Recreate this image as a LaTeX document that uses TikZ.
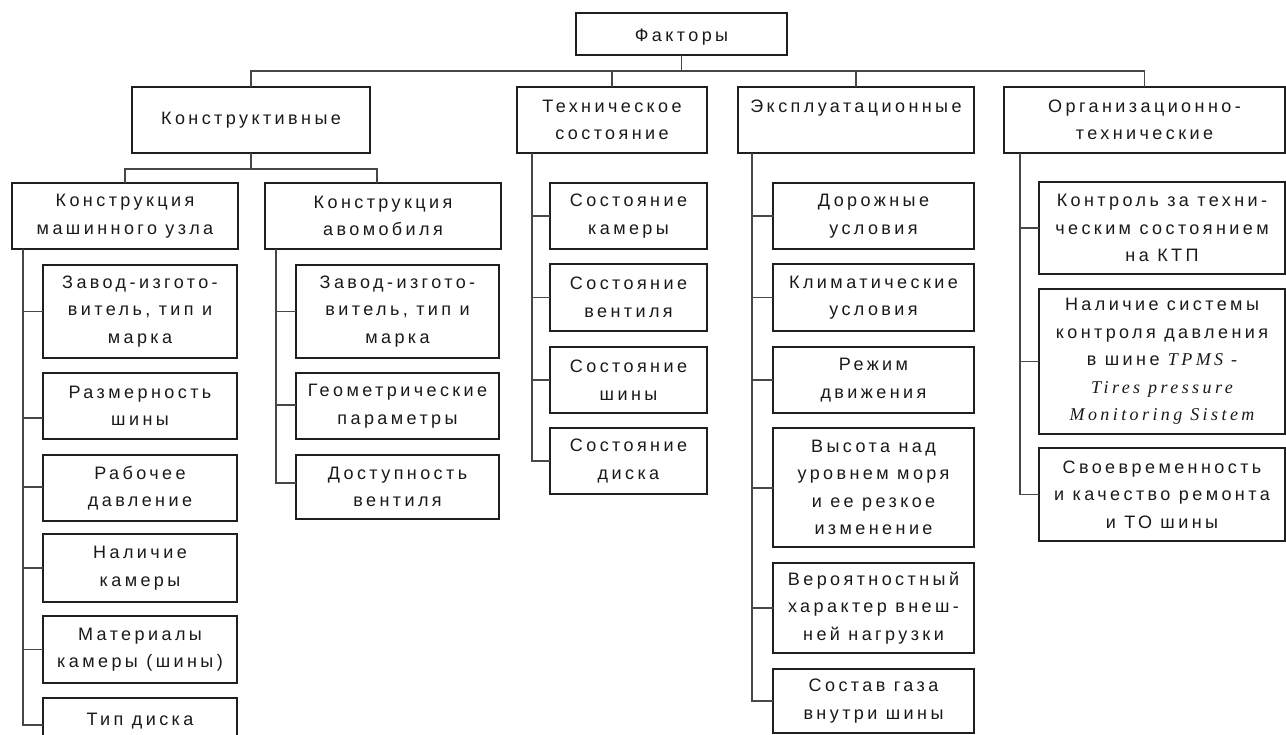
\documentclass[tikz,border=0pt]{standalone}
\usepackage{fontspec}
\setmainfont{Liberation Sans}[LetterSpace=19]
\newfontfamily\itserif{Liberation Serif}[LetterSpace=19]
\begin{document}
\begin{tikzpicture}[x=1pt,y=-1pt,
  every node/.style={font=\fontsize{18}{27.5}\selectfont},
  bx/.style={draw=black!88,line width=1.7pt,inner sep=0pt,outer sep=0pt,align=center,anchor=north west,text=black!90},
  ln/.style={draw=black!72,line width=1.1pt}]
\useasboundingbox (0,0) rectangle (1286,735);
\newcommand\bx[6]{\node[bx,minimum width={#4-#2},minimum height={#5-#3}] (#1) at (#2,#3) {#6};}
% level 0/1
\bx{root}{576}{13}{787}{55}{\raisebox{-3pt}[\height][\depth]{Факторы}}
\bx{konstr}{132}{87}{370}{153}{Конструктивные}
\bx{tech}{517}{87}{707}{153}{Техническое\\состояние}
\bx{expl}{738}{87}{974}{153}{Эксплуатационные\\\phantom{X}}
\bx{org}{1004}{87}{1285}{153}{Организационно-\\технические}
% level 2
\bx{km}{12}{183}{238}{249}{Конструкция\\машинного узла}
\bx{ka}{265}{183}{501}{249}{Конструкция\\авомобиля}
% column 1
\bx{k1}{43}{265}{237}{358}{Завод-изгото-\\витель, тип и\\марка}
\bx{k2}{43}{373}{237}{439}{Размерность\\шины}
\bx{k3}{43}{455}{237}{521}{Рабочее\\давление}
\bx{k4}{43}{534}{237}{602}{Наличие\\камеры}
\bx{k5}{43}{616}{237}{683}{Материалы\\камеры (шины)}
\bx{k6}{43}{698}{237}{745}{Тип диска}
% column 2
\bx{a1}{296}{265}{499}{358}{Завод-изгото-\\витель, тип и\\марка}
\bx{a2}{296}{373}{499}{439}{Геометрические\\параметры}
\bx{a3}{296}{455}{499}{519}{Доступность\\вентиля}
% tech column
\bx{t1}{550}{183}{707}{249}{Состояние\\камеры}
\bx{t2}{550}{264}{707}{331}{Состояние\\вентиля}
\bx{t3}{550}{347}{707}{413}{Состояние\\шины}
\bx{t4}{550}{428}{707}{494}{Состояние\\диска}
% expl column
\bx{e1}{773}{183}{974}{249}{Дорожные\\условия}
\bx{e2}{773}{264}{974}{331}{Климатические\\условия}
\bx{e3}{773}{347}{974}{413}{Режим\\движения}
\bx{e4}{773}{428}{974}{547}{Высота над\\уровнем моря\\и ее резкое\\изменение}
\bx{e5}{773}{563}{974}{653}{Вероятностный\\характер внеш-\\ней нагрузки}
\bx{e6}{773}{669}{974}{733}{Состав газа\\внутри шины}
% org column
\bx{o1}{1039}{182}{1285}{274}{Контроль за техни-\\ческим состоянием\\на КТП}
\bx{o2}{1039}{289}{1285}{434}{Наличие системы\\контроля давления\\в шине {\itserif\itshape TPMS -}\\{\itserif\itshape Tires pressure}\\{\itserif\itshape Monitoring Sistem}}
\bx{o3}{1039}{448}{1285}{541}{Своевременность\\и качество ремонта\\и ТО шины}
% level-1 bus
\coordinate (b1) at (0,71);
\draw[ln] (konstr.north) |- (b1 -| org.north) -- (org.north);
\draw[ln] (root.south) -- (root.south |- b1);
\draw[ln] (tech.north) -- (tech.north |- b1);
\draw[ln] (expl.north) -- (expl.north |- b1);
% level-2 bus
\coordinate (b2) at (0,169);
\draw[ln] (konstr.south) -- (konstr.south |- b2);
\draw[ln] (km.north) |- (b2 -| 377,0) -- ([xshift=-6pt]ka.north);
% column 1
\draw[ln] ([xshift=11pt]km.south west) |- ([yshift=-3.5pt]k6.west);
\draw[ln] ([xshift=11pt]km.south west |- k1.west) -- (k1.west);
\draw[ln] ([xshift=11pt]km.south west |- 0,418) -- (k2.west |- 0,418);
\draw[ln] ([xshift=11pt]km.south west |- 0,487) -- (k3.west |- 0,487);
\draw[ln] ([xshift=11pt]km.south west |- k4.west) -- (k4.west);
\draw[ln] ([xshift=11pt]km.south west |- k5.west) -- (k5.west);
% column 2
\draw[ln] ([xshift=11pt]ka.south west) |- (a3.west |- 0,483);
\draw[ln] ([xshift=11pt]ka.south west |- a1.west) -- (a1.west);
\draw[ln] ([xshift=11pt]ka.south west |- 0,405) -- (a2.west |- 0,405);
% tech column
\draw[ln] ([xshift=15pt]tech.south west) |- (t4.west);
\foreach \n in {t1,t2,t3}{\draw[ln] ([xshift=15pt]tech.south west |- \n.west) -- (\n.west);}
% expl column
\draw[ln] ([xshift=14pt]expl.south west) |- (e6.west);
\foreach \n in {e1,e2,e3,e5}{\draw[ln] ([xshift=14pt]expl.south west |- \n.west) -- (\n.west);}
\draw[ln] ([xshift=14pt]expl.south west |- 0,488) -- (e4.west |- 0,488);
% org column
\draw[ln] ([xshift=16pt]org.south west) |- (o3.west);
\draw[ln] ([xshift=16pt]org.south west |- o1.west) -- (o1.west);
\draw[ln] ([xshift=16pt]org.south west |- o2.west) -- (o2.west);
\end{tikzpicture}
\end{document}
